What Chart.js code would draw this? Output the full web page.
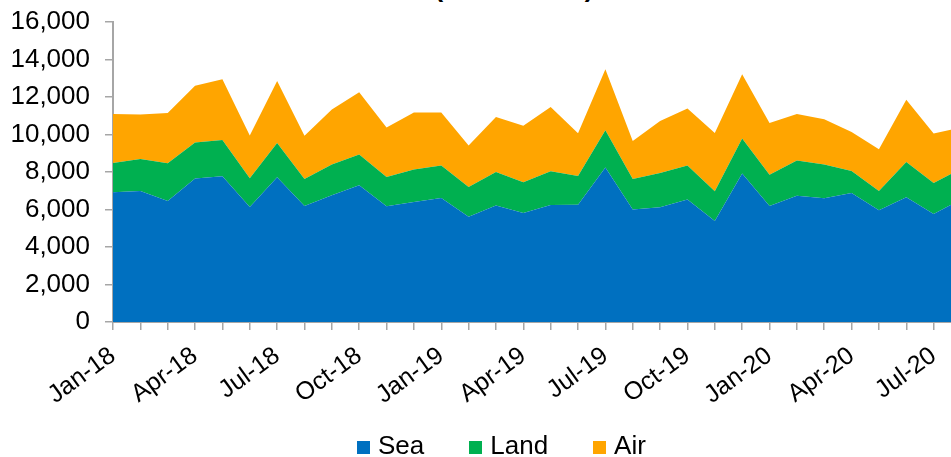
<!DOCTYPE html>
<html>
<head>
<meta charset="utf-8">
<script src="https://cdn.jsdelivr.net/npm/chart.js@4.4.1/dist/chart.umd.min.js"></script>
<style>
  html, body { margin: 0; padding: 0; background: #fff; overflow: hidden; }
  body { width: 951px; height: 457px; position: relative; font-family: 'Liberation Sans', Arial, sans-serif; color: #000; }
  #wrap { position: absolute; left: 0; top: 0; width: 1000px; height: 457px; }
  #title { position: absolute; left: 314px; top: -27px; width: 400px; text-align: center;
           font-size: 26px; line-height: 30px; font-weight: bold; white-space: nowrap; }
  #legend { position: absolute; left: 357px; top: 430px; font-size: 26px; line-height: 30px; white-space: nowrap; }
  #legend .item { display: inline-block; margin-right: 45px; }
  #legend .sw { display: inline-block; width: 13px; height: 13px; margin-right: 8px; vertical-align: baseline; }
</style>
</head>
<body>
<div id="title">(US$ million)</div>
<div id="wrap"><canvas id="trade"></canvas></div>
<div id="legend"></div>
<script>
'use strict';

// ---- data ----
const months = [
  'Jan-18', 'Feb-18', 'Mar-18', 'Apr-18', 'May-18', 'Jun-18', 'Jul-18', 'Aug-18', 'Sep-18', 'Oct-18', 'Nov-18', 'Dec-18',
  'Jan-19', 'Feb-19', 'Mar-19', 'Apr-19', 'May-19', 'Jun-19', 'Jul-19', 'Aug-19', 'Sep-19', 'Oct-19', 'Nov-19', 'Dec-19',
  'Jan-20', 'Feb-20', 'Mar-20', 'Apr-20', 'May-20', 'Jun-20', 'Jul-20', 'Aug-20'
];
const tickLabels = ['Jan-18', 'Apr-18', 'Jul-18', 'Oct-18', 'Jan-19', 'Apr-19', 'Jul-19', 'Oct-19', 'Jan-20', 'Apr-20', 'Jul-20'];

const sea = [6920, 6990, 6460, 7650, 7770, 6140, 7720, 6190, 6760, 7290, 6180, 6400,
             6610, 5620, 6220, 5810, 6240, 6260, 8240, 6000, 6120, 6540, 5390, 7920,
             6190, 6740, 6600, 6880, 5960, 6650, 5760, 6540];
const land = [1560, 1700, 2010, 1930, 1940, 1530, 1830, 1440, 1640, 1650, 1550, 1730,
              1740, 1580, 1780, 1640, 1800, 1530, 1990, 1630, 1830, 1810, 1580, 1870,
              1670, 1870, 1800, 1170, 1030, 1880, 1650, 1630];
const air = [2610, 2380, 2680, 3020, 3240, 2280, 3310, 2310, 2930, 3320, 2640, 3040,
             2830, 2210, 2930, 3020, 3430, 2280, 3250, 2030, 2770, 3040, 3110, 3430,
             2750, 2490, 2420, 2080, 2220, 3330, 2640, 2200];

const seriesNames = ['Sea', 'Land', 'Air'];
const seriesColors = ['#0070C0', '#00B050', '#FFA500'];

// ---- chart ----
const axisGrey = '#a6a6a6';
const fontFamily = "'Liberation Sans', Arial, sans-serif";

const datasets = [sea, land, air].map((data, i) => ({
  label: seriesNames[i],
  data,
  backgroundColor: seriesColors[i],
  borderColor: 'transparent',
  borderWidth: 0,
  pointRadius: 0,
  pointHoverRadius: 0,
  tension: 0,
  fill: i === 0 ? 'origin' : '-1'
}));

new Chart(document.getElementById('trade').getContext('2d'), {
  type: 'line',
  data: { labels: months, datasets },
  options: {
    responsive: true,
    maintainAspectRatio: false,
    animation: false,
    layout: { padding: { top: 22, right: 39, bottom: 0, left: 0 } },
    plugins: { legend: { display: false }, tooltip: { enabled: false } },
    scales: {
      x: {
        offset: false,
        afterFit: (s) => { s.height = 135; },
        border: { color: axisGrey, width: 2 },
        grid: { drawOnChartArea: false, drawTicks: true, tickLength: 8, color: axisGrey, lineWidth: 1.5 },
        ticks: {
          autoSkip: false,
          minRotation: 36,
          maxRotation: 36,
          padding: 11,
          color: '#000',
          font: { family: fontFamily, size: 25 },
          callback: function (v, i) {
            const lab = months[i];
            return tickLabels.includes(lab) ? lab : '';
          }
        }
      },
      y: {
        stacked: true,
        min: 0,
        max: 16000,
        // fixed axis width; top label may sit in the layout padding
        afterFit: (s) => { s.width = 113; s.paddingTop = 0; },
        border: { color: axisGrey, width: 2 },
        grid: { drawOnChartArea: false, drawTicks: true, tickLength: 8, color: axisGrey, lineWidth: 1.5 },
        ticks: {
          stepSize: 2000,
          padding: 15,
          color: '#000',
          font: { family: fontFamily, size: 26 },
          callback: (v) => v.toLocaleString('en-US')
        }
      }
    }
  }
});

// ---- legend ----
document.getElementById('legend').innerHTML = seriesNames.map((n, i) =>
  `<span class="item"><span class="sw" style="background:${seriesColors[i]}"></span>${n}</span>`
).join('');
</script>
</body>
</html>
